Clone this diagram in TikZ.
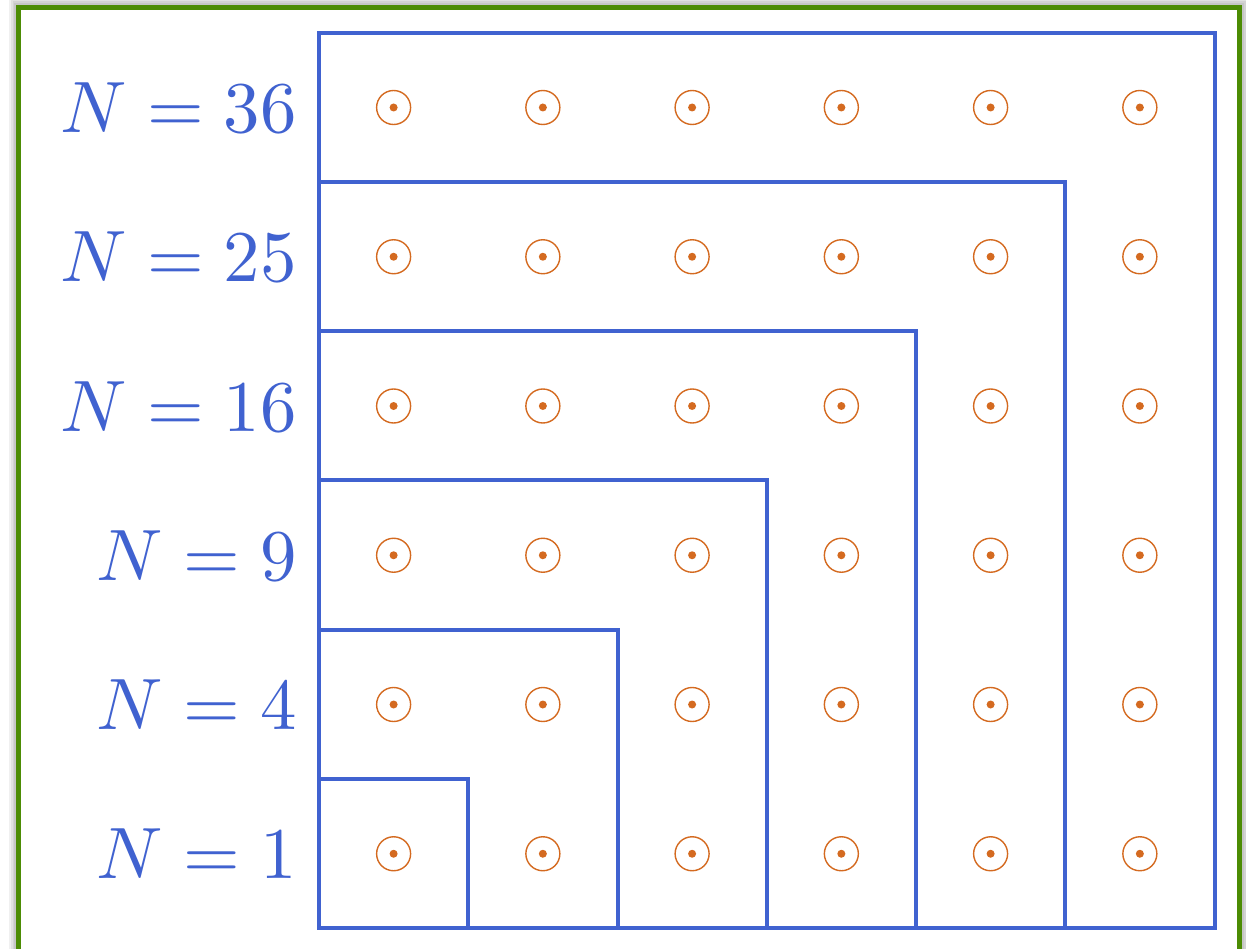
\documentclass[tikz,border=0pt]{standalone}
\definecolor{gridblue}{RGB}{64,98,208}
\definecolor{dotorange}{RGB}{212,106,32}
\definecolor{framegreen}{RGB}{76,140,4}
\newcommand{\biglbl}[1]{\scalebox{7.28}{\normalsize$#1$}}
\begin{document}
\begin{tikzpicture}[x=1pt,y=-1pt,
  gridline/.style={draw=gridblue,line width=4pt,line join=miter},
  lbl/.style={text=gridblue,anchor=base east,inner sep=0pt},
  odotc/.style={draw=dotorange,line width=1.4pt},
  shade/.style={draw=black,opacity=0.06}]
\useasboundingbox (0,0) rectangle (1246,949);
\fill[white] (0,0) rectangle (1246,949);
% shadow of frame
\foreach \w in {20,16,12,9} {
  \draw[shade,line width=\w pt] (18.5,7.5) rectangle (1239.5,1000);
}
\draw[draw=framegreen,line width=5.5pt,fill=white] (18.5,7.5) rectangle (1239.5,1000);
\def\s{149.25}
% outer box
\draw[gridline] (319,33) rectangle (1215,928);
% staircase
\foreach \k in {1,...,5} {
  \draw[gridline] (319,928-\k*\s) -| (319+\k*\s,928);
}
% dots
\foreach \i in {0,...,5} {
  \foreach \j in {0,...,5} {
    \draw[odotc] (393.6+\i*\s,107.5+\j*\s) circle (17);
    \fill[dotorange] (393.6+\i*\s,107.5+\j*\s) circle (4);
  }
}
% labels
\node[lbl] (l36) at (297,133) {\biglbl{N=36}};
\node[lbl] (l25) at (297,282) {\biglbl{N=25}};
\node[lbl] (l16) at (297,431) {\biglbl{N=16}};
\node[lbl] (l9) at (297,580) {\biglbl{N=9}};
\node[lbl] (l4) at (297,729) {\biglbl{N=4}};
\node[lbl] (l1) at (297,878) {\biglbl{N=1}};
\end{tikzpicture}
\end{document}
